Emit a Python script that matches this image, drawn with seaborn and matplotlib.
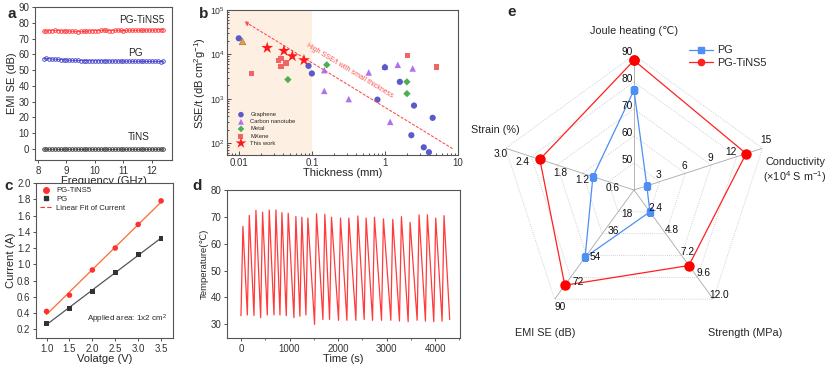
import numpy as np
import pandas as pd
import matplotlib
matplotlib.use('Agg')
import matplotlib.pyplot as plt
from matplotlib.ticker import FixedLocator, NullFormatter, MultipleLocator, LogLocator
from matplotlib.lines import Line2D
import seaborn as sns

sns.set_theme(style='ticks')
plt.rcParams['font.family'] = ['Liberation Sans', 'DejaVu Sans']
plt.rcParams['mathtext.fontset'] = 'custom'
plt.rcParams['mathtext.rm'] = 'Liberation Sans'
plt.rcParams['mathtext.it'] = 'Liberation Sans:italic'
plt.rcParams['axes.edgecolor'] = '#555555'
plt.rcParams['axes.linewidth'] = 0.8
plt.rcParams['xtick.color'] = '#333333'
plt.rcParams['ytick.color'] = '#333333'

# ---------------- data: panel a ----------------
freq_ghz = [8.2, 8.3, 8.4, 8.5, 8.6, 8.7, 8.8, 8.9, 9.0, 9.1, 9.2, 9.3, 9.4, 9.5, 9.6,
            9.7, 9.8, 9.9, 10.0, 10.1, 10.2, 10.3, 10.4, 10.5, 10.6, 10.7, 10.8, 10.9,
            11.0, 11.1, 11.2, 11.3, 11.4, 11.5, 11.6, 11.7, 11.8, 11.9, 12.0, 12.1,
            12.2, 12.3, 12.4]
se_pg_tins5 = [74.6, 74.8, 75.0, 75.1, 75.2, 75.1, 74.9, 74.8, 74.9, 74.7, 74.6, 74.5,
               74.4, 74.5, 74.6, 74.6, 74.8, 75.0, 75.0, 75.1, 75.2, 75.4, 75.2, 75.0,
               75.1, 75.2, 75.3, 75.2, 75.1, 75.2, 75.3, 75.2, 75.2, 75.3, 75.2, 75.3,
               75.4, 75.4, 75.3, 75.4, 75.5, 75.6, 75.6]
se_pg = [57.3, 57.4, 57.2, 57.0, 56.9, 56.8, 56.7, 56.6, 56.4, 56.3, 56.2, 56.1, 56.1,
         56.0, 56.0, 56.0, 55.9, 55.9, 55.9, 55.8, 55.9, 55.8, 55.8, 55.8, 55.7, 55.8,
         55.7, 55.7, 55.7, 55.6, 55.7, 55.6, 55.6, 55.6, 55.6, 55.5, 55.6, 55.5, 55.5,
         55.5, 55.5, 55.4, 55.5]
se_tins = [-0.2, -0.1, -0.2, -0.2, -0.1, -0.2, -0.3, -0.2, -0.1, -0.2, -0.2, -0.1,
           -0.2, -0.2, -0.3, -0.2, -0.1, -0.2, -0.2, -0.1, -0.2, -0.2, -0.1, -0.2,
           -0.3, -0.2, -0.2, -0.1, -0.2, -0.2, -0.1, -0.2, -0.2, -0.3, -0.2, -0.1,
           -0.2, -0.2, -0.1, -0.2, -0.2, -0.1, -0.2]

# ---------------- data: panel b ----------------
gr_thick = [0.01, 0.09, 0.1, 0.79, 1.0, 1.6, 2.5, 2.3, 3.4, 4.0, 4.5]
gr_sse = [2.3e4, 5.5e3, 3.7e3, 950, 5.1e3, 2.4e3, 700, 150, 80, 62, 370]
cnt_thick = [0.148, 0.148, 0.32, 0.6, 1.18, 1.5, 2.4, 1.0]
cnt_sse = [4.4e3, 1.5e3, 980, 3.9e3, 300, 5.8e3, 4.8e3, 5.3e3]
metal_thick = [0.16, 0.047, 2.0, 2.0]
metal_sse = [5.8e3, 2.7e3, 2.4e3, 1.3e3]
mx_thick = [0.015, 0.035, 0.038, 0.038, 0.044, 2.04, 5.07]
mx_sse = [3.7e3, 7.2e3, 5.3e3, 8.0e3, 6.3e3, 9.5e3, 5.2e3]
other_thick = [0.011]
other_sse = [2.0e4]
tw_thick = [0.0245, 0.0415, 0.054, 0.078]
tw_sse = [1.4e4, 1.2e4, 9.1e3, 7.4e3]
arrow_start = (9.0, 70)
arrow_end = (0.011, 6.0e4)

# ---------------- data: panel c ----------------
voltage = [1.0, 1.5, 2.0, 2.5, 3.0, 3.5]
cur_pg_tins5 = [0.42, 0.62, 0.93, 1.20, 1.49, 1.78]
cur_pg = [0.27, 0.46, 0.67, 0.90, 1.12, 1.32]

# ---------------- data: panel d ----------------
peak_t = [40, 171, 308, 445, 582, 720, 843, 973, 1131, 1254, 1378, 1556, 1728, 1865,
          2050, 2222, 2407, 2578, 2750, 2935, 3127, 3305, 3484, 3669, 3840, 4012, 4183]
peak_T = [66.5, 70.6, 72.5, 71.8, 72.6, 72.6, 71.6, 71.4, 70.2, 69.9, 69.6, 71.2, 71.0,
          69.9, 69.6, 69.6, 70.4, 69.6, 69.9, 69.3, 69.1, 70.1, 68.0, 70.8, 70.8, 69.6, 70.5]
trough_t = [0, 131, 268, 405, 542, 680, 803, 933, 1091, 1214, 1338, 1516, 1688, 1825,
            2010, 2182, 2367, 2538, 2710, 2895, 3087, 3265, 3444, 3629, 3800, 3972, 4143, 4300]
trough_T = [33.2, 33.5, 33.3, 32.5, 33.5, 33.5, 33.5, 33.2, 32.5, 33.0, 33.5, 30.0, 31.8,
            31.8, 31.5, 31.5, 31.5, 31.8, 31.5, 31.5, 31.5, 31.2, 31.0, 31.5, 31.2, 31.0,
            31.2, 31.8]

# ---------------- data: panel e ----------------
radar_axes = ['Joule heating (℃)', 'Conductivity\n(×10$^{4}$ S m$^{-1}$)',
              'Strength (MPa)', 'EMI SE (dB)', 'Strain (%)']
radar_min = [40, 0, 0, 0, 0]
radar_max = [90, 15, 12, 90, 3]
radar_ticks = [['50', '60', '70', '80', '90'], ['3', '6', '9', '12', '15'],
               ['2.4', '4.8', '7.2', '9.6', '12.0'], ['18', '36', '54', '72', '90'],
               ['0.6', '1.2', '1.8', '2.4', '3.0']]
radar_pg = [77, 1.5, 2.4, 55.5, 0.96]
radar_pg_tins5 = [88, 13.1, 8.3, 78.5, 2.2]

W, H = 833, 366
fig = plt.figure(figsize=(W / 100, H / 100), dpi=100)


def box(l, t, r, b):
    return [l / W, 1 - b / H, (r - l) / W, (b - t) / H]


TICK = 7
LAB = 8

# ================= panel a =================
axa = fig.add_axes(box(35, 7, 172, 160))
for vals, col in [(se_pg_tins5, '#ff3030'), (se_pg, '#3a3acb'), (se_tins, '#333333')]:
    sns.lineplot(x=freq_ghz, y=vals, ax=axa, color=col, lw=0.5, marker='o', ms=2.6,
                 markerfacecolor='none', markeredgecolor=col, markeredgewidth=0.6)
axa.set_xlim(7.9, 12.7)
axa.set_ylim(-7, 90)
axa.xaxis.set_major_locator(MultipleLocator(1))
axa.yaxis.set_major_locator(MultipleLocator(10))
axa.tick_params(labelsize=TICK, length=2.5, width=0.6, pad=1.5)
axa.set_xlabel('Frequency (GHz)', fontsize=LAB, labelpad=0)
axa.set_ylabel('EMI SE (dB)', fontsize=LAB, labelpad=1)
axa.text(10.85, 81.8, 'PG-TiNS5', fontsize=7.2, ha='left', va='center')
axa.text(11.15, 60.8, 'PG', fontsize=7.2, ha='left', va='center')
axa.text(11.15, 7.6, 'TiNS', fontsize=7.2, ha='left', va='center')

# ================= panel b =================
axb = fig.add_axes(box(227, 10, 458, 155))
axb.set_xscale('log')
axb.set_yscale('log')
axb.set_xlim(0.0069, 10)
axb.set_ylim(10 ** 1.73, 1e5)
axb.axvspan(0.0069, 0.1, color='#fdf0e2', lw=0, zorder=0)
sns.scatterplot(x=gr_thick, y=gr_sse, ax=axb, color='#5a5acb', marker='o', s=20,
                edgecolor='none', label='Graphene', zorder=3)
sns.scatterplot(x=cnt_thick, y=cnt_sse, ax=axb, color='#b070f0', marker='^', s=22,
                edgecolor='none', label='Carbon nanotube', zorder=2)
sns.scatterplot(x=metal_thick, y=metal_sse, ax=axb, color='#4caf50', marker='D', s=14,
                edgecolor='none', label='Metal', zorder=3)
sns.scatterplot(x=mx_thick, y=mx_sse, ax=axb, color='#f26464', marker='s', s=16,
                edgecolor='none', label='MXene', zorder=3)
sns.scatterplot(x=other_thick, y=other_sse, ax=axb, color='#e8a048', marker='^', s=22,
                edgecolor='#996633', linewidth=0.4, zorder=3)
sns.scatterplot(x=tw_thick, y=tw_sse, ax=axb, color='#ff1a1a', marker='*', s=80,
                edgecolor='none', label='This work', zorder=4)
axb.annotate('', xy=arrow_end, xytext=arrow_start,
             arrowprops=dict(arrowstyle='-|>', ls=(0, (2, 2)), color='#ff5050', lw=0.8,
                             mutation_scale=6))
axb.text(0.33, 4.3e3, 'High SSE/t with small thickness', fontsize=5, color='#ff5050',
         rotation=-31, ha='center', va='center', rotation_mode='anchor')
axb.xaxis.set_major_locator(FixedLocator([0.01, 0.1, 1, 10]))
axb.set_xticklabels(['0.01', '0.1', '1', '10'])
axb.xaxis.set_minor_locator(LogLocator(base=10, subs=np.arange(2, 10)))
axb.xaxis.set_minor_formatter(NullFormatter())
axb.yaxis.set_major_locator(FixedLocator([1e2, 1e3, 1e4, 1e5]))
axb.yaxis.set_minor_locator(LogLocator(base=10, subs=np.arange(2, 10)))
axb.yaxis.set_minor_formatter(NullFormatter())
axb.tick_params(which='both', direction='in', width=0.6)
axb.tick_params(which='major', labelsize=TICK, length=3, pad=2)
axb.tick_params(axis='y', which='major', labelsize=6.3, pad=1.5)
axb.tick_params(which='minor', length=1.5)
axb.set_xlabel('Thickness (mm)', fontsize=LAB, labelpad=0)
axb.set_ylabel('SSE/t (dB cm$^{2}$g$^{-1}$)', fontsize=LAB, labelpad=1)
axb.legend(loc='lower left', bbox_to_anchor=(0.02, 0.04), frameon=False, fontsize=4.2,
           handletextpad=0.6, labelspacing=0.35, borderaxespad=0.2, markerscale=0.9)

# ================= panel c =================
axc = fig.add_axes(box(36, 183, 173, 338))
fit_a = np.polyfit(voltage, cur_pg_tins5, 1)
fit_b = np.polyfit(voltage, cur_pg, 1)
sns.lineplot(x=voltage, y=np.polyval(fit_a, voltage), ax=axc, color='#ff6a2a', lw=0.9)
sns.lineplot(x=voltage, y=np.polyval(fit_b, voltage), ax=axc, color='#555555', lw=0.9)
sns.scatterplot(x=voltage, y=cur_pg_tins5, ax=axc, color='#ff3030', marker='o', s=16,
                edgecolor='none', zorder=3)
sns.scatterplot(x=voltage, y=cur_pg, ax=axc, color='#333333', marker='s', s=12,
                edgecolor='none', zorder=3)
axc.set_xlim(0.77, 3.76)
axc.set_ylim(0.093, 2.0)
axc.xaxis.set_major_locator(MultipleLocator(0.5))
axc.yaxis.set_major_locator(MultipleLocator(0.2))
axc.tick_params(labelsize=TICK, length=2.5, width=0.6, pad=1.5)
axc.set_xlabel('Volatge (V)', fontsize=LAB, labelpad=0)
axc.set_ylabel('Current (A)', fontsize=LAB, labelpad=1)
handles_c = [Line2D([], [], color='#ff3030', marker='o', ls='none', ms=4),
             Line2D([], [], color='#333333', marker='s', ls='none', ms=3.5),
             Line2D([], [], color='#ff3030', ls=(0, (4, 2)), lw=0.8)]
axc.legend(handles_c, ['PG-TiNS5', 'PG', 'Linear Fit of Current'], loc='upper left',
           frameon=False, fontsize=5.6, handlelength=1.6, handletextpad=0.5,
           labelspacing=0.15, borderaxespad=0.3, borderpad=0.2)
axc.text(0.96, 0.12, 'Applied area: 1x2 cm$^{2}$', transform=axc.transAxes, fontsize=5.8,
         ha='right', va='center')

# ================= panel d =================
axd = fig.add_axes(box(227, 190, 460, 338))
t_all, T_all = [], []
for i in range(len(peak_t)):
    t_all += [trough_t[i], peak_t[i]]
    T_all += [trough_T[i], peak_T[i]]
t_all.append(trough_t[-1])
T_all.append(trough_T[-1])
df_d = pd.DataFrame({'t': t_all, 'T': T_all})
sns.lineplot(data=df_d, x='t', y='T', ax=axd, sort=False, estimator=None,
             color='#ff3b3b', lw=0.9)
axd.set_xlim(-288, 4512)
axd.set_ylim(24.9, 80.06)
axd.xaxis.set_major_locator(MultipleLocator(1000))
axd.xaxis.set_minor_locator(MultipleLocator(500))
axd.yaxis.set_major_locator(MultipleLocator(10))
axd.tick_params(which='major', labelsize=TICK, length=2.5, width=0.6, pad=1.5)
axd.tick_params(which='minor', length=1.5, width=0.5)
axd.set_xlabel('Time (s)', fontsize=LAB, labelpad=0)
axd.set_ylabel('Temperature(℃)', fontsize=6.8, labelpad=1)

# ================= panel e (radar) =================
cx, cy, R = 634, 190, 135
axe = fig.add_axes(box(cx - R, cy - R, cx + R, cy + R), projection='polar')
axe.set_theta_zero_location('N')
axe.set_theta_direction(-1)
axe.set_ylim(0, 1)
axe.set_axis_off()
n = len(radar_axes)
theta = np.arange(n) * 2 * np.pi / n
theta_c = np.append(theta, theta[0])
levels = np.arange(1, 6) / 5
for lev in levels:
    axe.plot(theta_c, [lev] * (n + 1), color='#c4c4c4', lw=0.6, ls=(0, (1, 1.5)))
for th in theta:
    axe.plot([th, th], [0, 1], color='#a8a8a8', lw=0.6)


def norm(vals):
    return [(v - lo) / (hi - lo) for v, lo, hi in zip(vals, radar_min, radar_max)]


r_pg = norm(radar_pg)
r_pgt = norm(radar_pg_tins5)
axe.plot(theta_c, r_pgt + r_pgt[:1], color='#ff2020', lw=0.9, marker='o', ms=6.5,
         markerfacecolor='#ff0000', markeredgecolor='#ff0000', label='PG-TiNS5', zorder=4)
axe.plot(theta_c, r_pg + r_pg[:1], color='#4d8ff5', lw=0.9, marker='s', ms=4.2,
         markerfacecolor='#4d8ff5', markeredgecolor='#4d8ff5', label='PG', zorder=4)

# tick labels along each spoke (offsets in pixels, y downward)
lab_off = [[(-7, -3)] * 5,
           [(-1, -7), (-1, -7), (-1, -7), (-6, -5), (3, -8)],
           [(6, -4)] * 5,
           [(9, 2), (11, -3), (9, 1), (8, 5), (5, 8)],
           [(4, 6), (0, 7), (3, 8), (-9, 5), (-5, 6)]]
for k in range(n):
    for j, lev in enumerate(levels):
        dx, dy = lab_off[k][j]
        axe.annotate(radar_ticks[k][j], xy=(theta[k], lev), xytext=(dx * 0.72, -dy * 0.72),
                     textcoords='offset points', fontsize=7.3, ha='center', va='center',
                     color='#111111', zorder=5)
title_off = [(0, -159), (161, -19), (111, 143), (-89, 143), (-139, -60)]
for k in range(n):
    dx, dy = title_off[k]
    axe.annotate(radar_axes[k], xy=(0, 0), xytext=(dx * 0.72, -dy * 0.72),
                 textcoords='offset points', fontsize=7.8, ha='center', va='center',
                 linespacing=1.25, annotation_clip=False)
h_pg = Line2D([], [], color='#4d8ff5', marker='s', ms=4.2, lw=0.9)
h_pgt = Line2D([], [], color='#ff2020', marker='o', ms=4.5, lw=0.9)
fig.legend([h_pg, h_pgt], ['PG', 'PG-TiNS5'], loc='upper left',
           bbox_to_anchor=(684 / W, 1 - 40 / H), frameon=False, fontsize=7.8,
           handlelength=2.2, handletextpad=0.4, labelspacing=0.2, borderpad=0)

# panel letters
for lab, (px, py) in zip('abcde', [(12, 14), (204, 14), (9, 186), (197, 186), (512, 12)]):
    fig.text(px / W, 1 - py / H, lab, fontsize=11, fontweight='bold', ha='center',
             va='center')

fig.savefig('out.png', dpi=100)
